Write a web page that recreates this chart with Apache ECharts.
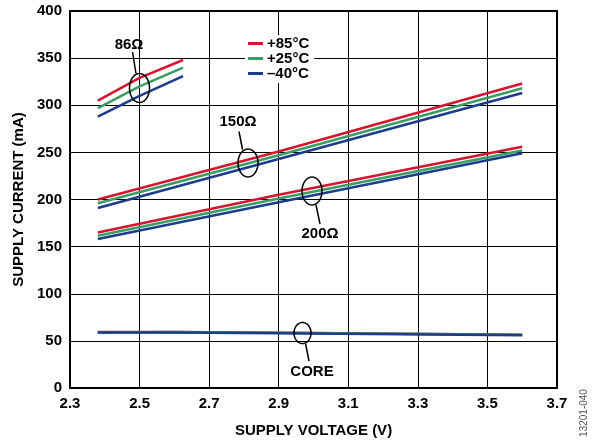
<!DOCTYPE html>
<html>
<head>
<meta charset="utf-8">
<script src="https://cdn.jsdelivr.net/npm/echarts@6/dist/echarts.min.js"></script>
<style>
  html, body { margin: 0; padding: 0; background: #fff; }
  #chart { width: 595px; height: 444px; }
</style>
</head>
<body>
<div id="chart"></div>
<script>
// 数据
var tempNames = ['+85°C', '+25°C', '–40°C'];
var tempColors = ['#d5152f', '#3a9e64', '#1c3d8c'];

var volt86 = [2.38, 2.5, 2.625];
var r86_85 = [305, 329, 348];
var r86_25 = [297, 320, 340];
var r86_m40 = [288, 310, 331];

var volt150 = [2.38, 2.9, 3.6];
var r150_85 = [200, 251, 323];
var r150_25 = [196, 247, 318];
var r150_m40 = [191, 243, 313];

var volt200 = [2.38, 2.9, 3.6];
var r200_85 = [165, 205, 256];
var r200_25 = [161.5, 201, 252];
var r200_m40 = [158, 197, 249];

var voltCore = [2.38, 2.6, 2.9, 3.6];
var core_85 = [59.5, 59.5, 58.5, 56.5];
var core_25 = [59, 59.5, 58.5, 56.5];
var core_m40 = [59, 59, 58, 56];

var xTicks = [2.3, 2.5, 2.7, 2.9, 3.1, 3.3, 3.5, 3.7];
var X0 = xTicks[0]; // axis offset so ticks start on a multiple of the interval

var FONT = '"Liberation Sans", Arial, sans-serif';

function pairs(xs, ys) {
    var out = [];
    for (var i = 0; i < xs.length; i++) {
        out.push([+(xs[i] - X0).toFixed(4), ys[i]]);
    }
    return out;
}

function ellipse(cx, cy, rx, ry) {
    var pts = [];
    for (var i = 0; i < 48; i++) {
        var a = i / 48 * Math.PI * 2;
        pts.push([cx + rx * Math.cos(a), cy + ry * Math.sin(a)]);
    }
    return pts;
}

var groups = [
    [volt86, [r86_85, r86_25, r86_m40]],
    [volt150, [r150_85, r150_25, r150_m40]],
    [volt200, [r200_85, r200_25, r200_m40]],
    [voltCore, [core_85, core_25, core_m40]]
];

var series = [];
for (var t = 0; t < 3; t++) {
    for (var g = 0; g < groups.length; g++) {
        series.push({
            id: 's' + t + '_' + g,
            name: tempNames[t],
            type: 'line',
            data: pairs(groups[g][0], groups[g][1][t]),
            symbol: 'none',
            z: 2 + t,
            lineStyle: { color: tempColors[t], width: 2.5 },
            itemStyle: { color: tempColors[t] }
        });
    }
}

// 注释 (ellipses, leaders, labels)
var notes = [
    { text: '86Ω',  cx: 139.5, cy: 88,  rx: 10, ry: 14.5, lx: 129, ly: 45,  l1: [132.5, 52],  l2: [136, 73.5] },
    { text: '150Ω', cx: 248,   cy: 163, rx: 10, ry: 14,   lx: 238, ly: 122, l1: [239, 131.5], l2: [242.5, 149.5] },
    { text: '200Ω', cx: 312,   cy: 191, rx: 10, ry: 14,   lx: 320, ly: 234, l1: [316, 205],   l2: [320, 224] },
    { text: 'CORE', cx: 302.5, cy: 333, rx: 8.5, ry: 10.5, lx: 312, ly: 372, l1: [305.5, 343.5], l2: [309, 361] }
];
var graphics = [];
notes.forEach(function (n) {
    graphics.push({
        type: 'polygon', z: 100,
        shape: { points: ellipse(n.cx, n.cy, n.rx, n.ry) },
        style: { fill: 'none', stroke: '#000', lineWidth: 1.5 }
    });
    graphics.push({
        type: 'line', z: 100,
        shape: { x1: n.l1[0], y1: n.l1[1], x2: n.l2[0], y2: n.l2[1] },
        style: { stroke: '#000', lineWidth: 1.5 }
    });
    graphics.push({
        type: 'text', z: 100,
        style: {
            text: n.text, x: n.lx, y: n.ly,
            textAlign: 'center', textVerticalAlign: 'middle',
            font: 'bold 15px ' + FONT, fill: '#000'
        }
    });
});
graphics.push({
    type: 'text', z: 100,
    x: 584, y: 413, rotation: Math.PI / 2,
    style: {
        text: '13201-040', x: 0, y: 0,
        textAlign: 'center', textVerticalAlign: 'middle',
        font: '10px ' + FONT, fill: '#555'
    }
});

var myChart = echarts.init(document.getElementById('chart'));
var option = {
    animation: false,
    textStyle: { fontFamily: FONT },
    grid: {
        left: 70,
        right: 38,
        top: 11,
        bottom: 56,
        show: true,
        borderColor: '#000',
        borderWidth: 2,
        containLabel: false
    },
    legend: {
        data: tempNames,
        orient: 'vertical',
        left: 245,
        top: 35,
        icon: 'rect',
        itemWidth: 15,
        itemHeight: 3,
        itemGap: 0,
        padding: [1, 5, 2, 3],
        backgroundColor: '#fff',
        textStyle: {
            fontSize: 15,
            fontWeight: 'bold',
            color: '#000',
            lineHeight: 15,
            padding: [0, 0, 0, -1]
        }
    },
    xAxis: {
        type: 'value',
        min: 0,
        max: +(xTicks[xTicks.length - 1] - X0).toFixed(4),
        interval: 0.2,
        name: 'SUPPLY VOLTAGE (V)',
        nameLocation: 'middle',
        nameGap: 35,
        nameTextStyle: { fontSize: 15, fontWeight: 'bold', color: '#000' },
        axisLine: { lineStyle: { color: '#000', width: 2 } },
        axisTick: { show: false },
        axisLabel: {
            margin: 8,
            fontSize: 15,
            fontWeight: 'bold',
            color: '#000',
            formatter: function (v) { return (v + X0).toFixed(1); }
        },
        splitLine: { show: true, lineStyle: { color: '#000', width: 1 } }
    },
    yAxis: {
        type: 'value',
        min: 0,
        max: 400,
        interval: 50,
        name: 'SUPPLY CURRENT (mA)',
        nameLocation: 'middle',
        nameGap: 38,
        nameTextStyle: { fontSize: 15, fontWeight: 'bold', color: '#000' },
        axisLine: { show: true, lineStyle: { color: '#000', width: 2 } },
        axisTick: { show: false },
        axisLabel: {
            margin: 8,
            fontSize: 15,
            fontWeight: 'bold',
            color: '#000'
        },
        splitLine: { show: true, lineStyle: { color: '#000', width: 1 } }
    },
    graphic: graphics,
    series: series
};
if (option && typeof option === "object") {
    myChart.setOption(option, true);
    window.onresize = myChart.resize;
}
</script>
</body>
</html>
